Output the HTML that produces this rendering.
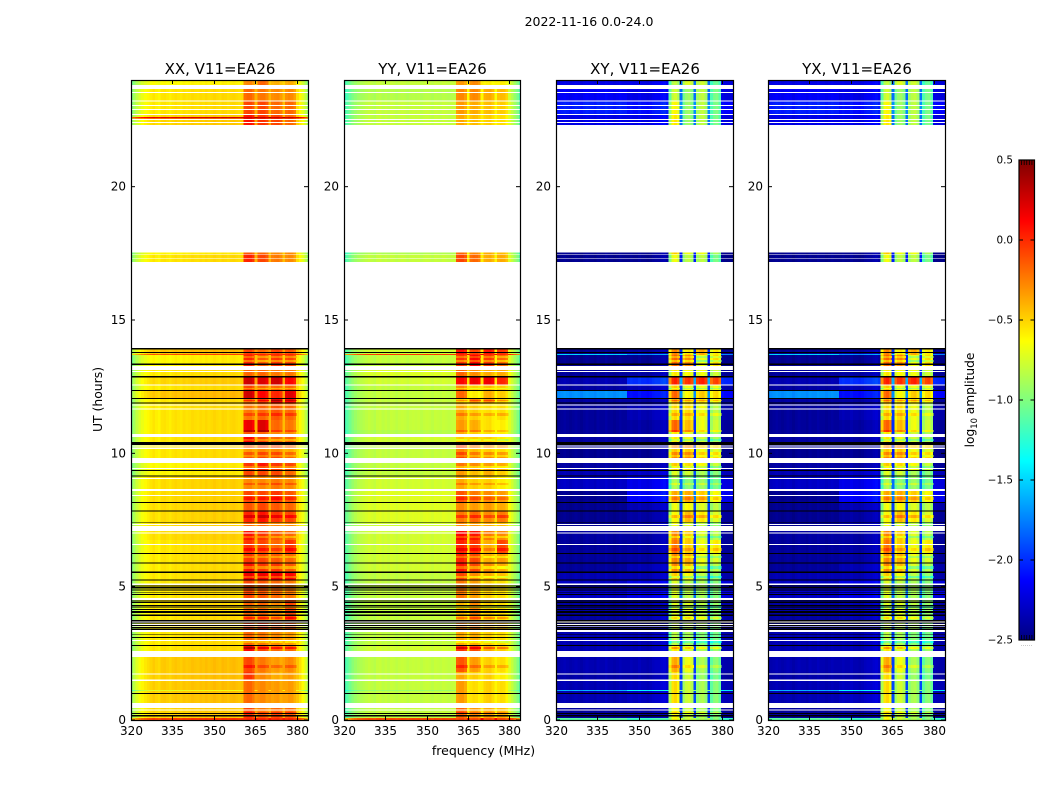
<!DOCTYPE html>
<html>
<head>
<meta charset="utf-8">
<title>2022-11-16 0.0-24.0</title>
<style>
html,body{margin:0;padding:0;background:#fff;}
svg{display:block;}
text{font-family:"DejaVu Sans","Liberation Sans",sans-serif;fill:#000;}
</style>
</head>
<body>
<svg id="figure" xmlns="http://www.w3.org/2000/svg" width="1050" height="800" viewBox="0 0 1050 800">
  <rect x="0" y="0" width="1050" height="800" fill="#fff"/>
  <text x="589" y="26" font-size="12.5" text-anchor="middle">2022-11-16 0.0-24.0</text>
  <text x="483.5" y="755" font-size="12.5" text-anchor="middle">frequency (MHz)</text>
  <text transform="translate(102,399.5) rotate(-90)" font-size="12.4" text-anchor="middle">UT (hours)</text>
  <text transform="translate(974,400) rotate(-90)" font-size="12.2" text-anchor="middle">log<tspan font-size="8.4" dy="3">10</tspan><tspan dy="-3"> amplitude</tspan></text>
  <text x="1026.5" y="646" font-size="5" fill="#666" text-anchor="middle" style="fill:#666;letter-spacing:0.4px">......</text>
  <g id="panels"></g>
  <g id="colorbar"></g>
</svg>
<script>
// Axis labels and ticks
const panelTitles = ['XX, V11=EA26', 'YY, V11=EA26', 'XY, V11=EA26', 'YX, V11=EA26'];
const freqTicks = [320, 335, 350, 365, 380];
const utTicks = [0, 5, 10, 15, 20];
const colorTicks = [-2.5, -2.0, -1.5, -1.0, -0.5, 0.0, 0.5];

// UT extent (hours) of each block of data rows
const blockStartUT = [24,23.66,23.21,22.69,22.61,22.56,17.53,17.48,13.95,13.73,13.69,13.13,12.9,12.56,12.34,12.08,11.87,11.25,10.88,10.61,10.31,9.64,9.38,9.15,8.59,8.14,7.84,7.43,7.09,6.75,6.26,5.89,5.55,5.25,4.5,3.75,3.3,2.81,2.36,1.8,1.5,1.13,1.09,0.45,0.23,0.08];
const blockEndUT = [23.81,23.21,22.69,22.61,22.56,22.31,17.48,17.18,13.73,13.69,13.28,12.9,12.56,12.34,12.08,11.87,11.25,10.88,10.73,10.31,9.83,9.38,9.15,8.66,8.14,7.84,7.43,7.28,6.75,6.26,5.89,5.55,5.25,4.58,3.75,3.3,2.81,2.59,1.8,1.5,1.13,1.09,0.64,0.23,0.08,0];

// Log10 amplitude per block: [low band, 361-365, 366-370, 371-375, 376-380 MHz]
const xxLevels = [
[-.62,-.3,-.2,-.42,-.4],[-.55,-.2,-.25,-.3,-.3],[-.55,-.1,-.1,-.2,-.2],[-.5,.05,-.05,-.1,-.2],[.22,.25,.25,.25,.25],[-.5,.05,-.05,-.1,-.2],
[-.6,-.15,-.2,-.3,-.3],[-.55,0,-.1,-.25,-.3],
[-.45,-.1,-.2,-.1,-.15],[-.1,0,0,0,0],[-.6,0,-.15,-.05,-.1],[-.55,-.2,-.2,-.25,-.25],
[-.5,.25,.2,.25,.1],[-.55,-.1,-.2,-.2,-.2],[-.45,.25,.1,0,.2],[-.55,-.2,-.05,.2,.1],
[-.55,-.25,-.2,-.15,-.2],[-.55,.15,.2,-.2,-.25],[-.55,-.15,-.2,-.3,-.3],[-.55,.1,-.1,-.2,-.2],[-.55,-.15,-.1,-.1,-.2],
[-.6,-.05,.05,-.05,-.1],[-.6,-.1,-.1,-.1,-.2],[-.52,-.3,-.3,-.25,-.3],[-.52,-.1,-.1,-.05,-.15],[-.52,-.15,-.1,-.15,-.2],[-.52,0,.05,-.05,-.1],[-.52,-.2,-.2,-.3,-.3],
[-.52,.05,-.05,-.15,-.2],[-.55,-.05,-.1,-.2,-.05],[-.55,-.05,-.1,-.15,-.2],[-.55,.05,-.05,-.05,-.15],[-.55,.15,.15,.15,.1],[-.55,-.1,-.15,-.2,-.25],
[-.55,-.2,-.2,-.3,-.1],[-.55,-.1,-.05,-.15,-.15],[-.55,-.2,-.25,-.3,-.35],[-.55,.1,-.1,-.2,-.2],
[-.47,-.1,-.25,-.35,-.3],[-.47,-.05,-.3,-.4,-.35],[-.47,-.2,-.3,-.35,-.35],[-.7,-.2,-.3,-.35,-.35],[-.47,-.2,-.3,-.35,-.35],
[-.5,-.1,-.25,-.2,-.2],[-.5,-.05,-.15,-.1,-.15],[-.05,0,0,0,0]];

const yyLevels = [
[-.82,-.35,-.3,-.6,-.6],[-.86,-.3,-.3,-.4,-.45],[-.82,-.35,-.4,-.45,-.5],[-.82,-.4,-.45,-.5,-.55],[-.82,-.4,-.45,-.5,-.55],[-.82,-.4,-.45,-.5,-.55],
[-.88,-.2,-.3,-.4,-.45],[-.82,-.1,-.2,-.4,-.4],
[-.78,.05,-.1,.05,-.05],[-.05,0,0,0,0],[-.82,-.05,.1,-.05,-.2],[-.75,-.2,-.3,-.4,-.4],
[-.78,.1,.15,.15,0],[-.82,-.3,-.5,-.45,-.5],[-.82,-.2,-.6,-.4,-.5],[-.82,-.5,-.3,-.3,-.5],
[-.82,-.4,-.5,-.55,-.55],[-.82,-.35,-.4,-.55,-.6],[-.86,-.4,-.5,-.55,-.6],[-.78,-.5,-.5,-.5,-.6],[-.82,-.1,-.25,-.3,-.35],
[-.82,-.25,-.3,-.35,-.4],[-.82,-.35,-.45,-.4,-.5],[-.78,-.4,-.5,-.5,-.6],[-.74,-.15,-.25,-.3,-.35],[-.74,-.3,-.35,-.35,-.4],[-.74,-.25,-.2,-.3,-.25],[-.78,-.3,-.35,-.4,-.45],
[-.78,.1,.05,-.25,-.3],[-.78,0,-.05,-.4,-.1],[-.78,0,-.1,-.4,-.35],[-.78,.05,-.1,-.3,-.4],[-.82,-.1,-.3,-.4,-.45],[-.82,-.25,-.35,-.5,-.55],
[-.82,-.45,-.3,-.5,-.55],[-.82,-.3,-.25,-.4,-.45],[-.82,-.4,-.4,-.5,-.55],[-.78,-.05,-.1,-.4,-.5],
[-.82,-.15,-.35,-.5,-.55],[-.82,-.4,-.5,-.5,-.6],[-.82,-.35,-.55,-.5,-.55],[-.95,-.35,-.55,-.5,-.55],[-.82,-.35,-.55,-.5,-.55],
[-.82,-.2,-.35,-.4,-.45],[-.82,-.2,-.3,-.35,-.4],[-.1,-.1,-.1,-.1,-.1]];

// Cross-hand log10 amplitude per block: [320-345, 345-361, 361-365, 366-370, 371-375, 376-380 MHz]
const xyLevels = [
[-2.2,-2.2,-.85,-.75,-.8,-1.1],[-2.15,-2.2,-.8,-.95,-.85,-1.05],[-2.05,-2.1,-.65,-.95,-.85,-1.05],[-2.2,-2.2,-.6,-.95,-.85,-1.05],[-2.2,-2.2,-.6,-.95,-.85,-1.05],[-2.2,-2.2,-.6,-.95,-.85,-1.05],
[-2.45,-2.45,-.5,-.7,-.7,-.9],[-2.45,-2.45,-.7,-.85,-.85,-1.05],
[-2.45,-2.42,-.3,-.6,-.4,-.6],[-1.5,-1.7,-.3,-.5,-.4,-.6],[-2.45,-2.45,-.2,-.3,-.7,-.55],[-2.42,-2.4,-.6,-.65,-.7,-.8],
[-2.35,-2.0,0,-.05,0,-.1],[-2.4,-2.35,-.5,-.7,-.7,-.7],[-1.7,-2.1,-.2,-.65,-.5,-.55],[-2.4,-2.4,-.4,-.55,-.55,-.65],
[-2.42,-2.35,-.55,-.55,-.7,-.85],[-2.42,-2.4,-.2,-.45,-.7,-.8],[-2.42,-2.4,-.6,-.7,-.8,-.9],[-2.4,-2.4,-.6,-.7,-.8,-.9],[-2.45,-2.45,-.3,-.3,-.5,-.55],
[-2.4,-2.4,-.5,-.55,-.65,-.8],[-2.35,-2.3,-.75,-.8,-.9,-1],[-2.3,-2.2,-.9,-1,-.95,-1.05],[-2.45,-2.15,-.4,-.4,-.5,-.65],[-2.45,-2.35,-.7,-.65,-.75,-.85],[-2.45,-2.4,-.65,-.45,-.6,-.75],[-2.45,-2.4,-.7,-.75,-.85,-.95],
[-2.4,-2.4,-.3,-.5,-.75,-.85],[-2.42,-2.4,-.25,-.5,-.7,-.6],[-2.42,-2.4,-.3,-.4,-.7,-.75],[-2.42,-2.35,-.3,-.45,-.75,-.85],[-2.35,-2.35,-.5,-.65,-.85,-.95],[-2.3,-2.2,-.75,-.85,-.9,-1],
[-2.4,-2.35,-.75,-.75,-.85,-.95],[-2.38,-2.35,-.8,-.85,-.9,-1],[-2.35,-2.35,-.85,-.9,-1,-1.05],[-2.35,-2.35,-.6,-.75,-.9,-.95],
[-2.35,-2.35,-.4,-.7,-.9,-1],[-2.38,-2.38,-.55,-.8,-.95,-1.05],[-2.35,-2.32,-.55,-.8,-.9,-1],[-1.6,-1.4,-.55,-.8,-.9,-1],[-2.35,-2.32,-.55,-.8,-.9,-1],
[-2.42,-2.4,-.65,-.8,-.9,-1],[-2.42,-2.4,-.65,-.8,-.9,-1],[-1.1,-1.2,-.65,-.8,-.9,-1]];

// Which level each 1 MHz channel follows: 0/1 low band, 2-5 the four bright sub-bands
const channelZone = [0,0,0,0,0,0,0,0,0,0,0,0,0,0,0,0,0,0,0,0,0,0,0,0,0,0,1,1,1,1,1,1,1,1,1,1,1,1,1,1,1,2,2,2,2,1,3,3,3,3,1,4,4,4,4,1,5,5,5,5,1,1,1,1,1];

// Per-channel spectral shape added to the row level
const xxShape = [-.45,-.35,-.25,-.18,-.13,-.09,-.06,-.03,0,-.03,-.05,0,.01,-.01,-.03,0,.02,0,-.01,.02,0,.01,.03,.02,.01,.03,.02,.04,.02,.03,.05,.03,.02,.05,.04,.02,.04,.05,.03,.02,.03,0,.03,.03,-.03,.15,0,.03,.03,-.03,.15,0,.02,.03,-.03,.12,0,.03,.02,-.05,.02,-.06,-.15,-.27,-.4];
const yyShape = [-.35,-.3,-.22,-.15,-.1,-.06,-.04,-.02,0,.02,0,-.02,.02,.03,0,.02,0,.03,.02,0,.02,.03,.02,0,.02,.03,.02,.03,0,.02,.03,.02,0,.03,.02,.01,.03,.02,.01,.02,.03,0,.03,.03,-.03,.25,0,.03,.02,-.03,.25,0,.02,.03,-.03,.22,0,.03,.02,-.05,.1,.02,-.08,-.18,-.3];
const xyShape = [-.03,-.02,0,.02,0,-.02,0,.02,0,-.03,0,.02,0,0,-.02,.02,0,0,.03,0,0,-.02,0,.02,0,0,0,.02,0,0,.03,0,0,-.02,0,.03,.05,.05,.08,.1,.05,-.3,0,.05,-.05,.4,-.1,.02,.05,-.05,.4,-.05,.02,.05,-.05,.4,-.1,.02,.05,-.08,0,-.02,-.03,-.03,-.03];

// Stripes within the bright sub-bands: UT range and log10 amplitude change
const stripeStartUT = [13.65,13.5,12.45,12,11.51,10.88,10.54,10.16,9.94,9.53,8.89,8.36,7.69,6.9,6.45,6.15,5.78,5.4,4.28,3.86,3,2.74,2.06,0.3];
const stripeEndUT = [13.58,13.43,12.41,11.96,11.4,10.8,10.46,10.05,9.86,9.45,8.81,8.25,7.58,6.83,6.34,6.08,5.66,5.33,4.2,3.79,2.89,2.66,1.95,0.26];
const stripeChange = [-.2,-.25,-.2,.2,.15,.15,-.2,-.2,-.15,-.2,.15,.15,.2,-.2,.15,-.2,-.25,-.25,-.2,.2,-.2,.25,.15,.15];

// Flagged time ranges [start UT, end UT]
const whiteFlagsUT = [[23.55,23.51],[23.23,23.2],[23.07,23.03],[22.91,22.88],[22.73,22.69],[22.54,22.5],[22.43,22.39],[17.48,17.46],[17.33,17.3],[13.09,13.05],[12.58,12.54],[11.83,11.8],[11.68,11.64],[10.29,10.25],[10.21,10.17],[9.45,9.41],[9.08,9.04],[8.44,8.4],[7.35,7.31],[7.03,6.99],[6.6,6.56],[5.12,5.06],[4.58,4.5],[3.69,3.66],[3.6,3.56],[3.51,3.49],[3.42,3.3],[3,2.96],[1.74,1.7],[1.52,1.46],[.39,.36]];
const blackFlagsUT = [[13.95,13.9],[13.8,13.76],[13.37,13.31],[12.9,12.84],[12.38,12.34],[12.08,12.04],[11.91,11.87],[10.43,10.32],[9.38,9.34],[9.17,9.13],[8.17,8.13],[7.85,7.81],[7.43,7.4],[6.27,6.23],[5.9,5.86],[5.56,5.52],[5.27,5.24],[5.04,5.01],[4.98,4.94],[4.89,4.86],[4.79,4.76],[4.72,4.68],[4.49,4.45],[4.42,4.38],[4.32,4.28],[4.25,4.21],[4.17,4.13],[4.08,4.01],[3.96,3.9],[3.75,3.69],[3.66,3.62],[3.56,3.52],[3.48,3.44],[3.41,3.38],[3.23,3.2],[3.11,3.07],[2.82,2.78],[1.02,.98],[.26,.22],[.18,.14]];

const NS = 'http://www.w3.org/2000/svg';
const panelLeft = [131, 344, 556, 768];
const panelWidths = [177, 176, 177, 177];
const plotTop = 80;
const plotBottom = 720;
const FREQ_MIN = 320, FREQ_MAX = 384, FIRST_CHANNEL = 319.7;
const UT_MIN = 0, UT_MAX = 24;
const COLOR_MIN = -2.5, COLOR_MAX = 0.5;

function yScale(ut) {
  return plotBottom - (ut - UT_MIN) / (UT_MAX - UT_MIN) * (plotBottom - plotTop);
}
function xScale(freq, left, width) {
  return left + (freq - FREQ_MIN) / (FREQ_MAX - FREQ_MIN) * width;
}
function clip01(v) { return Math.max(0, Math.min(1, v)); }
function jet(value) {
  const t = clip01((value - COLOR_MIN) / (COLOR_MAX - COLOR_MIN));
  const r = clip01(1.5 - Math.abs(4 * t - 3));
  const g = clip01(1.5 - Math.abs(4 * t - 2));
  const b = clip01(1.5 - Math.abs(4 * t - 1));
  return 'rgb(' + Math.round(r * 255) + ',' + Math.round(g * 255) + ',' + Math.round(b * 255) + ')';
}
function makeSvg(tag, attrs, parent) {
  const el = document.createElementNS(NS, tag);
  for (const k in attrs) el.setAttribute(k, attrs[k]);
  parent.appendChild(el);
  return el;
}

const panelsRoot = document.getElementById('panels');
const panelData = [[xxLevels, xxShape], [yyLevels, yyShape], [xyLevels, xyShape], [xyLevels, xyShape]];

panelTitles.forEach(function (title, p) {
  const left = panelLeft[p];
  const panelWidth = panelWidths[p];
  const levels = panelData[p][0];
  const shape = panelData[p][1];
  const group = makeSvg('g', {}, panelsRoot);
  
  

  const cells = makeSvg('g', { 'shape-rendering': 'crispEdges' }, group);
  
  

  function zoneLevelsFor(b) {
    const row = levels[b];
    return row.length === 5 ? [row[0]].concat(row) : row;
  }

  blockStartUT.forEach(function (startUT, b) {
    const zoneLevels = zoneLevelsFor(b);
    const yTop = yScale(startUT);
    const yBottom = yScale(blockEndUT[b]);
    channelZone.forEach(function (zone, c) {
      const f0 = Math.max(FREQ_MIN, FIRST_CHANNEL + c);
      const f1 = Math.min(FREQ_MAX, FIRST_CHANNEL + c + 1);
      const x0 = xScale(f0, left, panelWidth);
      const x1 = xScale(f1, left, panelWidth);
      const value = zoneLevels[zone] + shape[c];
      const cell = makeSvg('rect', { x: x0, y: yTop, width: x1 - x0 + 0.4, height: yBottom - yTop, fill: jet(value) }, cells);
      
      
    });
  });

  stripeStartUT.forEach(function (startUT, s) {
    const b = blockStartUT.findIndex(function (top, i) { return top >= startUT && blockEndUT[i] <= startUT; });
    if (b < 0) return;
    const zoneLevels = zoneLevelsFor(b);
    const yTop = yScale(startUT);
    const yBottom = yScale(stripeEndUT[s]);
    channelZone.forEach(function (zone, c) {
      if (zone < 2) return;
      const x0 = xScale(FIRST_CHANNEL + c, left, panelWidth);
      const x1 = xScale(FIRST_CHANNEL + c + 1, left, panelWidth);
      const value = zoneLevels[zone] + shape[c] + stripeChange[s];
      const stripe = makeSvg('rect', { x: x0, y: yTop, width: x1 - x0 + 0.4, height: yBottom - yTop, fill: jet(value) }, cells);
      
      
    });
  });

  whiteFlagsUT.forEach(function (range) {
    const flag = makeSvg('rect', { x: left, y: yScale(range[0]), width: panelWidth, height: yScale(range[1]) - yScale(range[0]), fill: '#fff' }, cells);
    
    
  });
  blackFlagsUT.forEach(function (range) {
    const flag = makeSvg('rect', { x: left, y: yScale(range[0]), width: panelWidth, height: yScale(range[1]) - yScale(range[0]), fill: '#000' }, cells);
    
    
  });

  freqTicks.forEach(function (freq) {
    const x = Math.round(xScale(freq, left, panelWidth)) + 0.5;
    const tickTop = makeSvg('line', { x1: x, x2: x, y1: plotTop, y2: plotTop + 4, stroke: '#000', 'stroke-width': 1 }, group);
    
    
    const tickBottom = makeSvg('line', { x1: x, x2: x, y1: plotBottom, y2: plotBottom - 4, stroke: '#000', 'stroke-width': 1 }, group);
    
    
    const label = makeSvg('text', { x: x, y: 735, 'font-size': 12, 'text-anchor': 'middle' }, group);
    
    
    label.textContent = String(freq);
  });

  utTicks.forEach(function (ut) {
    const y = yScale(ut);
    const tickLeft = makeSvg('line', { x1: left, x2: left + 4, y1: y, y2: y, stroke: '#000', 'stroke-width': 1 }, group);
    
    
    const tickRight = makeSvg('line', { x1: left + panelWidth, x2: left + panelWidth - 4, y1: y, y2: y, stroke: '#000', 'stroke-width': 1 }, group);
    
    
    const label = makeSvg('text', { x: left - 5, y: y + 4, 'font-size': 12, 'text-anchor': 'end' }, group);
    
    
    label.textContent = String(ut);
  });

  const frame = makeSvg('rect', { x: left + 0.5, y: plotTop + 0.5, width: panelWidth, height: plotBottom - plotTop, fill: 'none', stroke: '#000', 'stroke-width': 1.2 }, group);
  
  

  const titleEl = makeSvg('text', { x: left + panelWidth / 2 + 0.5, y: 74, 'font-size': 15, 'text-anchor': 'middle' }, group);
  
  
  titleEl.textContent = title;
});

// Colorbar
const cbRoot = document.getElementById('colorbar');
const cbLeft = 1019, cbWidth = 15.5, cbTop = 160, cbBottom = 640;
function cbY(value) {
  return cbBottom - (value - COLOR_MIN) / (COLOR_MAX - COLOR_MIN) * (cbBottom - cbTop);
}
const cbGrad = makeSvg('g', { 'shape-rendering': 'crispEdges' }, cbRoot);


const cbSteps = 240;
for (let i = 0; i < cbSteps; i++) {
  const v0 = COLOR_MIN + (COLOR_MAX - COLOR_MIN) * i / cbSteps;
  const v1 = COLOR_MIN + (COLOR_MAX - COLOR_MIN) * (i + 1) / cbSteps;
  const seg = makeSvg('rect', { x: cbLeft, y: cbY(v1), width: cbWidth, height: cbY(v0) - cbY(v1) + 0.5, fill: jet((v0 + v1) / 2) }, cbGrad);
  
  
}
colorTicks.forEach(function (value) {
  const y = cbY(value);
  const t1 = makeSvg('line', { x1: cbLeft, x2: cbLeft + 4, y1: y, y2: y, stroke: '#000', 'stroke-width': 1 }, cbRoot);
  
  
  const t2 = makeSvg('line', { x1: cbLeft + cbWidth, x2: cbLeft + cbWidth - 4, y1: y, y2: y, stroke: '#000', 'stroke-width': 1 }, cbRoot);
  
  
  const label = makeSvg('text', { x: 1013, y: y + 3.5, 'font-size': 10.4, 'text-anchor': 'end' }, cbRoot);
  
  
  label.textContent = value.toFixed(1).replace('-', '\u2212');
});
for (let i = 1; i <= 5; i++) {
  const x = cbLeft + cbWidth * i / 6;
  const t3 = makeSvg('line', { x1: x, x2: x, y1: cbTop, y2: cbTop + 5, stroke: '#000', 'stroke-width': 0.8 }, cbRoot);
  
  
  const t4 = makeSvg('line', { x1: x, x2: x, y1: cbBottom, y2: cbBottom - 5, stroke: '#000', 'stroke-width': 0.8 }, cbRoot);
  
  
}
const cbFrame = makeSvg('rect', { x: cbLeft, y: cbTop, width: cbWidth, height: cbBottom - cbTop, fill: 'none', stroke: '#000', 'stroke-width': 1.2 }, cbRoot);


</script>
</body>
</html>
